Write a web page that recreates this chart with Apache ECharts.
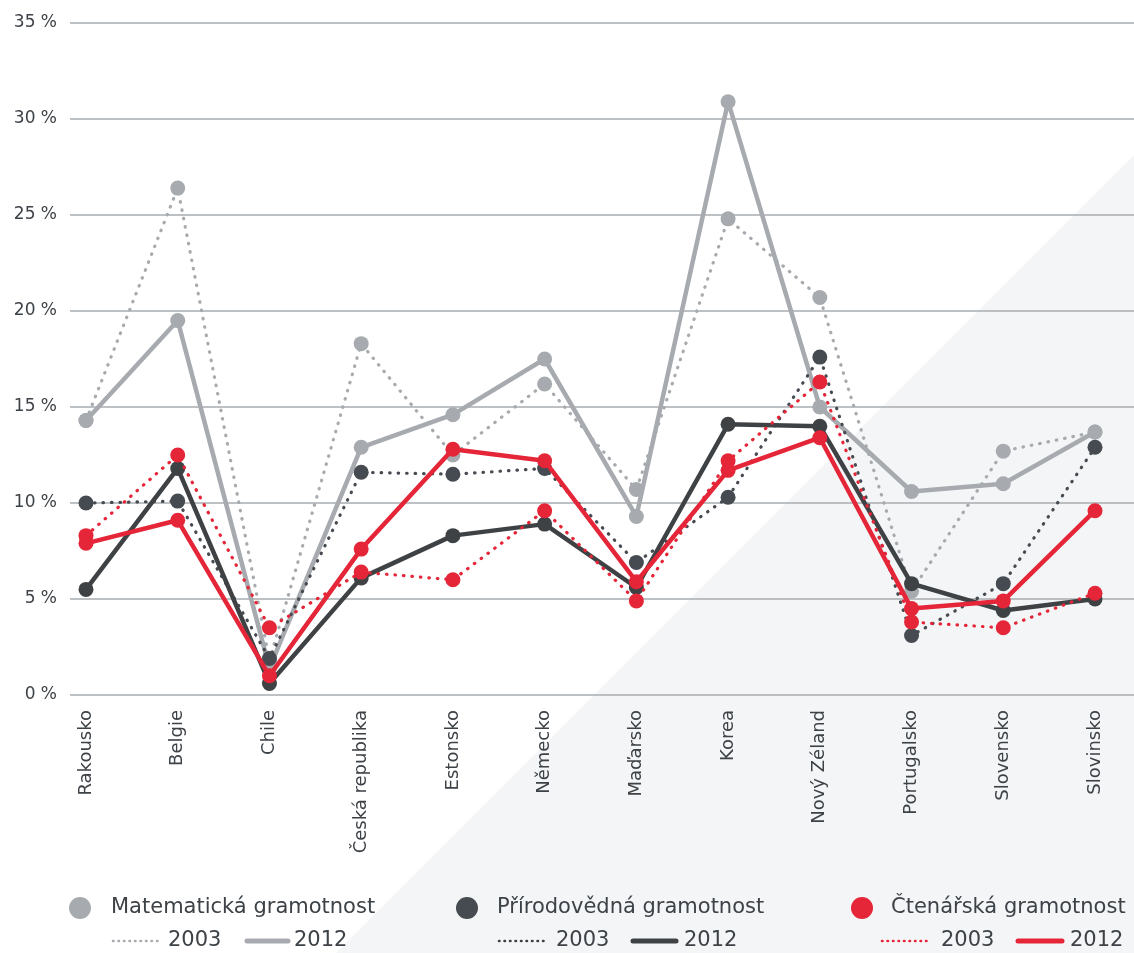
<!DOCTYPE html>
<html>
<head>
<meta charset="utf-8">
<script src="https://cdn.jsdelivr.net/npm/echarts@6/dist/echarts.min.js"></script>
<style>
  html, body { margin: 0; padding: 0; background: #ffffff; }
  #chart { width: 1134px; height: 953px; }
</style>
</head>
<body>
<div id="chart"></div>
<script>
// Countries along the category axis
const countries = ['Rakousko', 'Belgie', 'Chile', 'Česká republika', 'Estonsko', 'Německo',
  'Maďarsko', 'Korea', 'Nový Zéland', 'Portugalsko', 'Slovensko', 'Slovinsko'];

// Share of top performers (%) by domain and year
const math2003    = [14.3, 26.4, 1.8, 18.3, 12.5, 16.2, 10.7, 24.8, 20.7, 5.4, 12.7, 13.7];
const math2012    = [14.3, 19.5, 1.4, 12.9, 14.6, 17.5, 9.3, 30.9, 15.0, 10.6, 11.0, 13.7];
const science2003 = [10.0, 10.1, 1.9, 11.6, 11.5, 11.8, 6.9, 10.3, 17.6, 3.1, 5.8, 12.9];
const science2012 = [5.5, 11.8, 0.6, 6.1, 8.3, 8.9, 5.6, 14.1, 14.0, 5.8, 4.4, 5.0];
const reading2003 = [8.3, 12.5, 3.5, 6.4, 6.0, 9.6, 4.9, 12.2, 16.3, 3.8, 3.5, 5.3];
const reading2012 = [7.9, 9.1, 1.0, 7.6, 12.8, 12.2, 5.9, 11.7, 13.4, 4.5, 4.9, 9.6];

// Legend texts
const domainNames = ['Matematická gramotnost', 'Přírodovědná gramotnost', 'Čtenářská gramotnost'];
const yearNames = ['2003', '2012'];

const GRAY = '#a7abaf';
const DARK = '#3f4245';
const DARK_DOT = '#464b51';
const RED = '#e52638';
const TEXT = '#3d4247';
const FONT = 'DejaVu Sans';

const dotted = { type: [0.5, 8], cap: 'round', width: 3.2 };

function mkSeries(name, data, color, isDotted, z) {
  return {
    name: name,
    type: 'line',
    xAxisIndex: 1,
    yAxisIndex: 1,
    data: data,
    symbol: 'circle',
    symbolSize: 15,
    z: z,
    itemStyle: { color: color },
    lineStyle: isDotted ? Object.assign({ color: color }, dotted) : { color: color, width: 4.5 },
    emphasis: { disabled: true },
    animation: false
  };
}

const chart = echarts.init(document.getElementById('chart'), null, { renderer: 'canvas' });

// Legend: header with a dot, then a dotted and a solid sample line for each year
const legendGroups = [
  { color: GRAY, dotColor: GRAY, x: 80, textX: 111, dLine: [113, 160], y03: 168, sLine: [247, 288], y12: 294 },
  { color: DARK, dotColor: DARK_DOT, x: 467, textX: 497, dLine: [499, 548], y03: 556, sLine: [633, 676], y12: 684 },
  { color: RED, dotColor: RED, x: 862, textX: 891, dLine: [882, 929], y03: 941, sLine: [1018, 1062], y12: 1070 }
];
const legendFont = '21px "' + FONT + '"';
const graphics = [
  {
    type: 'polygon', z: -100, silent: true,
    shape: { points: [[1134, 155], [1134, 953], [336, 953]] },
    style: { fill: '#f4f5f7' }
  }
];
legendGroups.forEach((g, i) => {
  graphics.push({ type: 'circle', shape: { cx: g.x, cy: 908, r: 11 }, style: { fill: g.dotColor } });
  graphics.push({ type: 'text', x: g.textX, y: 908, style: { text: domainNames[i], fill: TEXT, font: legendFont, textVerticalAlign: 'middle' } });
  graphics.push({ type: 'line', shape: { x1: g.dLine[0], y1: 941, x2: g.dLine[1], y2: 941 }, style: { stroke: g.color, lineWidth: 2.6, lineDash: [0.5, 5], lineCap: 'round' } });
  graphics.push({ type: 'text', x: g.y03, y: 941, style: { text: yearNames[0], fill: TEXT, font: legendFont, textVerticalAlign: 'middle' } });
  graphics.push({ type: 'line', shape: { x1: g.sLine[0], y1: 941, x2: g.sLine[1], y2: 941 }, style: { stroke: g.color, lineWidth: 5, lineCap: 'round' } });
  graphics.push({ type: 'text', x: g.y12, y: 941, style: { text: yearNames[1], fill: TEXT, font: legendFont, textVerticalAlign: 'middle' } });
});

chart.setOption({
  animation: false,
  backgroundColor: 'transparent',
  textStyle: { fontFamily: FONT },
  grid: [
    // value grid carrying the horizontal rules and percent labels
    { left: 70, right: 0, top: 23, bottom: 258 },
    // data grid, with the countries spread between the first and last point
    { left: 86, right: 39, top: 23, bottom: 258 }
  ],
  xAxis: [
    { gridIndex: 0, type: 'value', show: false, min: 0, max: 1 },
    {
      gridIndex: 1, type: 'category', data: countries, boundaryGap: false,
      axisLine: { show: false }, axisTick: { show: false },
      axisLabel: { rotate: 90, margin: 15, fontSize: 18, color: TEXT, fontFamily: FONT, interval: 0 }
    }
  ],
  yAxis: [
    {
      gridIndex: 0, type: 'value', min: 0, max: 35, interval: 5,
      axisLine: { show: false }, axisTick: { show: false },
      axisLabel: { formatter: v => v + ' %', fontSize: 17, color: TEXT, margin: 13, fontFamily: FONT },
      splitLine: { lineStyle: { color: '#a9adb1', width: 1.5 } }
    },
    { gridIndex: 1, type: 'value', min: 0, max: 35, interval: 5, show: false, splitLine: { show: false } }
  ],
  series: [
    mkSeries('Matematická 2003', math2003, GRAY, true, 2),
    mkSeries('Matematická 2012', math2012, GRAY, false, 3),
    mkSeries('Přírodovědná 2003', science2003, DARK_DOT, true, 4),
    mkSeries('Přírodovědná 2012', science2012, DARK, false, 5),
    mkSeries('Čtenářská 2003', reading2003, RED, true, 6),
    mkSeries('Čtenářská 2012', reading2012, RED, false, 7)
  ],
  graphic: graphics
});
</script>
</body>
</html>
